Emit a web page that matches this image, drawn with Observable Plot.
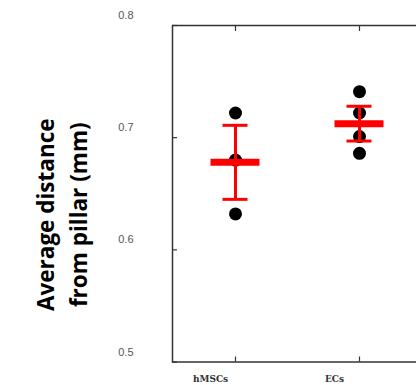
<!DOCTYPE html>
<html>
<head>
<meta charset="utf-8">
<script src="https://cdn.jsdelivr.net/npm/d3@7"></script>
<script src="https://cdn.jsdelivr.net/npm/@observablehq/plot@0.6"></script>
<style>
  html, body { margin: 0; padding: 0; background: #fff; overflow: hidden; }
  #chart { width: 416px; height: 385px; overflow: hidden; }
  #chart svg { max-width: none !important; }
</style>
</head>
<body>
<div id="chart"></div>
<script>
const categories = ["hMSCs", "ECs"];
const pointGroup = ["hMSCs", "hMSCs", "hMSCs", "ECs", "ECs", "ECs", "ECs"];
const pointValue = [0.722, 0.680, 0.632, 0.741, 0.722, 0.701, 0.686];
const meanValue = [0.678, 0.7125];
const errLow = [0.645, 0.697];
const errHigh = [0.711, 0.728];
const yTicks = [0.5, 0.6, 0.7, 0.8];
const yTitle = "Average distance\nfrom pillar (mm)";

const points = pointGroup.map((g, i) => ({group: g, value: pointValue[i]}));
const summary = categories.map((c, i) => ({group: c, mean: meanValue[i], lo: errLow[i], hi: errHigh[i]}));

const red = "#ff0000";
const frameColor = "#333";

const plot = Plot.plot({
  width: 480,
  height: 385,
  marginLeft: 172,
  marginRight: 0,
  marginTop: 25,
  marginBottom: 23.5,
  style: {background: "#fff", overflow: "visible", maxWidth: "none"},
  x: {type: "band", domain: categories, range: [173, 421], padding: 0, label: null},
  y: {domain: [0.5, 0.8], label: null},
  marks: [
    Plot.frame({stroke: frameColor, strokeWidth: 1.5}),
    // y tick labels
    Plot.axisY(yTicks, {tickSize: 0, tickPadding: 39, dy: -10, tickFormat: d3.format(".1f"),
      fill: "#555", fontSize: 11, fontFamily: "Liberation Sans, Arial, sans-serif", label: null}),
    // y inner ticks
    Plot.axisY(yTicks, {tickSize: -5, text: null, stroke: frameColor, strokeWidth: 1.2, label: null}),
    // x labels
    Plot.axisX({tickSize: 0, tickPadding: 14, dx: -25, fontSize: 9, fontWeight: "bold",
      fontFamily: "DejaVu Serif, Liberation Serif, serif", fill: "#333", label: null}),
    // x inner ticks top and bottom
    Plot.axisX({anchor: "bottom", tickSize: -5, text: null, stroke: frameColor, strokeWidth: 1.2, label: null}),
    Plot.axisX({anchor: "top", tickSize: -5, text: null, stroke: frameColor, strokeWidth: 1.2, label: null}),
    // y title
    Plot.text([yTitle], {frameAnchor: "left", rotate: -90, dx: -113, dy: 21, text: d => d,
      fontSize: 22.5, fontWeight: "bold", fontFamily: "Open Sans, sans-serif", fill: "#000",
      lineHeight: 1.47, textAnchor: "middle", lineAnchor: "middle"}),
    // data points
    Plot.dot(points, {x: "group", y: "value", r: 6.5, fill: "#000", stroke: "none"}),
    // error bars
    Plot.ruleX(summary, {x: "group", y1: "lo", y2: "hi", stroke: red, strokeWidth: 3}),
    Plot.tickY(summary, {x: "group", y: "lo", stroke: red, strokeWidth: 3, insetLeft: 49.5, insetRight: 49.5}),
    Plot.tickY(summary, {x: "group", y: "hi", stroke: red, strokeWidth: 3, insetLeft: 49.5, insetRight: 49.5}),
    // mean bars
    Plot.tickY(summary, {x: "group", y: "mean", stroke: red, strokeWidth: 7, insetLeft: 37.5, insetRight: 37.5})
  ]
});
document.getElementById("chart").appendChild(plot);
</script>
</body>
</html>
